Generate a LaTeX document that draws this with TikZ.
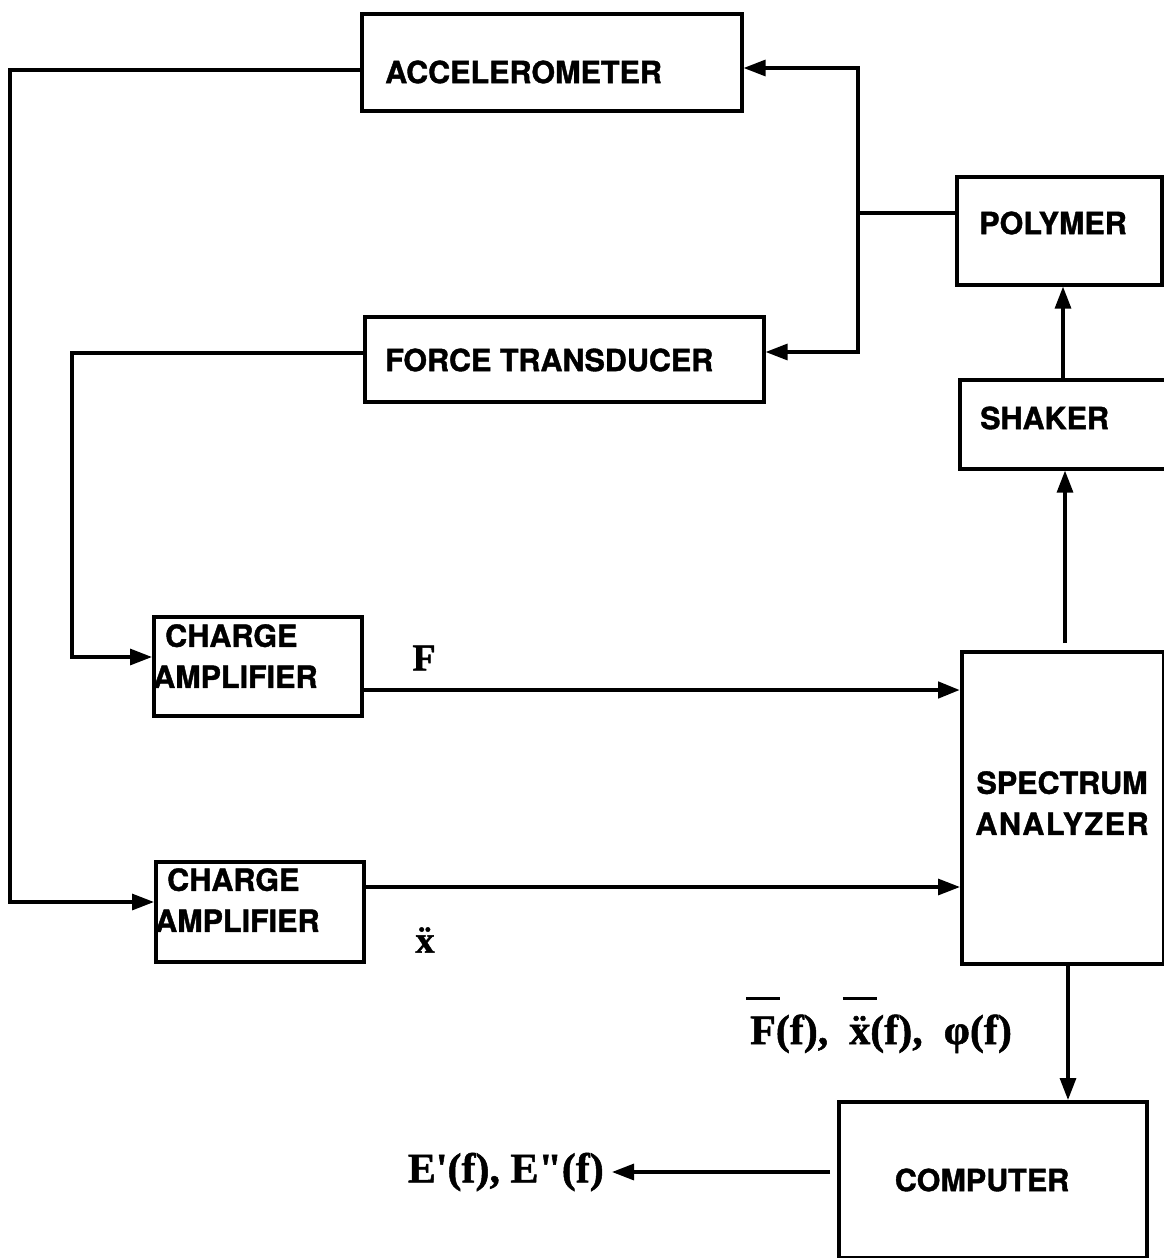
\documentclass[tikz,border=0pt]{standalone}
\usepackage{fontspec}
\setmainfont{Liberation Serif}[BoldFeatures={FakeBold=1.2}]
\newfontfamily\hv{TeX Gyre Heros}[BoldFeatures={FakeBold=1.3}]
\usetikzlibrary{arrows.meta,calc}
\newcommand\topbar[1]{\setbox0\hbox{#1}\rlap{\hbox to \wd0{\hss\raisebox{1.05em}{\rule{34pt}{3pt}}\hss}}#1}
\begin{document}
\begin{tikzpicture}[x=1pt,y=-1pt,
  box/.style={draw, line width=3.6pt, inner sep=0pt, anchor=north west},
  lab/.style={font=\hv\bfseries\fontsize{30.5}{41}\selectfont, inner sep=0pt},
  mlab/.style={font=\bfseries\fontsize{42}{48}\selectfont, inner sep=0pt},
  wire/.style={line width=3.2pt},
  arr/.style={wire, -{Triangle[length=22pt,width=16pt]}}]
\useasboundingbox (0,0) rectangle (1163,1258);
% boxes
\node[box, minimum width=380pt, minimum height=97pt] (acc) at (360,12) {};
\node[box, minimum width=399pt, minimum height=85pt] (ft) at (363,315) {};
\node[box, minimum width=205pt, minimum height=108pt] (poly) at (955,175) {};
\node[box, minimum width=217pt, minimum height=89pt] (shk) at (958,378) {};
\node[box, minimum width=202pt, minimum height=312pt] (sa) at (960,650) {};
\node[box, minimum width=208pt, minimum height=99pt] (ca1) at (152,615) {};
\node[box, minimum width=208pt, minimum height=100pt] (ca2) at (154,860) {};
\node[box, minimum width=308pt, minimum height=156pt] (comp) at (837,1100) {};
% box texts
\node[lab, anchor=west] (accT) at (385,72) {ACCELEROMETER};
\node[lab, anchor=west] (ftT) at (385,360) {FORCE TRANSDUCER};
\node[lab] (polyT) at (1053,223) {POLYMER};
\node[lab, anchor=west] (shkT) at (980,418) {SHAKER};
\node[lab, align=center] (saT) at (1062,803) {SPECTRUM\\{\addfontfeature{LetterSpace=5}ANALYZER}};
\node[lab, align=left, anchor=west] (ca1T) at (153,656) {\hspace*{12pt}CHARGE\\AMPLIFIER};
\node[lab, align=left, anchor=west] (ca2T) at (155,900) {\hspace*{12pt}CHARGE\\AMPLIFIER};
\node[lab] (compT) at (982,1180) {COMPUTER};
% signal labels
\node[mlab, font=\bfseries\fontsize{38}{44}\selectfont] (Flab) at (424,658) {F};
\node[mlab, font=\bfseries\fontsize{38}{44}\selectfont] (xlab) at (425,940) {\"x};
\node[mlab, anchor=west] (spec) at (750,1025) {\topbar{F}(f),\ \ \topbar{\"x}(f),\ \ φ(f)};
\node[mlab, anchor=east, inner xsep=8pt] (eout) at (612,1172) {\addfontfeature{Ligatures=TeXOff}E'(f), E"(f)};
% connectors
\coordinate (j) at (858,213);
\draw[wire] ($(poly.north west)+(0,38)$) -- (j);
\draw[arr] (j) |- ($(acc.north east)+(0,56)$);
\draw[arr] (j) |- ($(ft.north east)+(0,37)$);
\draw[arr] ($(acc.north west)+(0,58)$) -- ++(-350,0) |- ($(ca2.north west)+(0,42)$);
\draw[arr] ($(ft.north west)+(0,38)$) -- ++(-291,0) |- ($(ca1.north west)+(0,42)$);
\draw[arr] ($(shk.north west)+(105,0)$) -- ($(poly.south west)+(108,0)$);
\draw[arr] ($(sa.north west)+(105,-7)$) -- ($(shk.south west)+(107,0)$);
\draw[arr, line width=4.6pt] ($(ca1.north west)+(208,75)$) -- ($(sa.north west)+(0,40)$);
\draw[arr] ($(ca2.north west)+(208,27)$) -- ($(sa.north west)+(0,237)$);
\draw[arr] ($(sa.south west)+(108,0)$) -- ($(comp.north west)+(231,0)$);
\draw[arr] ($(comp.north west)+(-7,72)$) -- (eout.east);
\end{tikzpicture}
\end{document}
